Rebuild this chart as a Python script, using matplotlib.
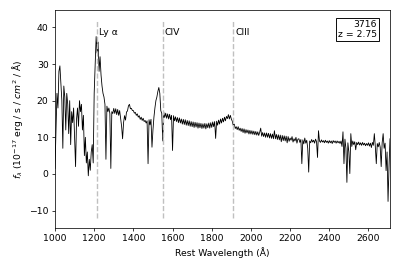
import matplotlib
matplotlib.use("Agg")
import matplotlib.pyplot as plt

wavelength = [
    1000, 1005, 1010, 1015, 1020, 1025, 1030, 1035, 1040, 1045,
    1050, 1055, 1060, 1065, 1070, 1075, 1080, 1085, 1090, 1095,
    1100, 1105, 1110, 1115, 1120, 1125, 1130, 1135, 1140, 1145,
    1150, 1155, 1160, 1165, 1170, 1175, 1180, 1185, 1190, 1195,
    1200, 1205, 1210, 1215, 1220, 1225, 1230, 1235, 1240, 1245,
    1250, 1255, 1260, 1265, 1270, 1275, 1280, 1285, 1290, 1295,
    1300, 1305, 1310, 1315, 1320, 1325, 1330, 1335, 1340, 1345,
    1350, 1355, 1360, 1365, 1370, 1375, 1380, 1385, 1390, 1395,
    1400, 1405, 1410, 1415, 1420, 1425, 1430, 1435, 1440, 1445,
    1450, 1455, 1460, 1465, 1470, 1475, 1480, 1485, 1490, 1495,
    1500, 1505, 1510, 1515, 1520, 1525, 1530, 1535, 1540, 1545,
    1550, 1555, 1560, 1565, 1570, 1575, 1580, 1585, 1590, 1595,
    1600, 1605, 1610, 1615, 1620, 1625, 1630, 1635, 1640, 1645,
    1650, 1655, 1660, 1665, 1670, 1675, 1680, 1685, 1690, 1695,
    1700, 1705, 1710, 1715, 1720, 1725, 1730, 1735, 1740, 1745,
    1750, 1755, 1760, 1765, 1770, 1775, 1780, 1785, 1790, 1795,
    1800, 1805, 1810, 1815, 1820, 1825, 1830, 1835, 1840, 1845,
    1850, 1855, 1860, 1865, 1870, 1875, 1880, 1885, 1890, 1895,
    1900, 1905, 1910, 1915, 1920, 1925, 1930, 1935, 1940, 1945,
    1950, 1955, 1960, 1965, 1970, 1975, 1980, 1985, 1990, 1995,
    2000, 2005, 2010, 2015, 2020, 2025, 2030, 2035, 2040, 2045,
    2050, 2055, 2060, 2065, 2070, 2075, 2080, 2085, 2090, 2095,
    2100, 2105, 2110, 2115, 2120, 2125, 2130, 2135, 2140, 2145,
    2150, 2155, 2160, 2165, 2170, 2175, 2180, 2185, 2190, 2195,
    2200, 2205, 2210, 2215, 2220, 2225, 2230, 2235, 2240, 2245,
    2250, 2255, 2260, 2265, 2270, 2275, 2280, 2285, 2290, 2295,
    2300, 2305, 2310, 2315, 2320, 2325, 2330, 2335, 2340, 2345,
    2350, 2355, 2360, 2365, 2370, 2375, 2380, 2385, 2390, 2395,
    2400, 2405, 2410, 2415, 2420, 2425, 2430, 2435, 2440, 2445,
    2450, 2455, 2460, 2465, 2470, 2475, 2480, 2485, 2490, 2495,
    2500, 2505, 2510, 2515, 2520, 2525, 2530, 2535, 2540, 2545,
    2550, 2555, 2560, 2565, 2570, 2575, 2580, 2585, 2590, 2595,
    2600, 2605, 2610, 2615, 2620, 2625, 2630, 2635, 2640, 2645,
    2650, 2655, 2660, 2665, 2670, 2675, 2680, 2685, 2690, 2695,
    2700, 2705, 2710,
]
flux = [
    1.5, 12, 22, 18, 28, 29.5, 25, 20, 7, 24,
    21, 12, 22, 19, 11, 20, 8, 17, 14, 18,
    10, 2, 15, 18, 13, 20, 17, 19, 12, 16,
    5, 10, 3, 6, -0.5, 4, 1, 6, 8, 3,
    22, 30, 37.5, 33, 36, 28, 32, 27, 24, 22,
    21, 19, 4, 18.5, 17, 18, 16.5, 1.5, 17, 16.5,
    17.9, 16.5, 17.8, 16.2, 17.6, 16.0, 17.3, 15.2, 13, 9.6,
    14, 15.9, 14.7, 16.9, 17.2, 18.6, 19, 17.8, 17.9, 17.3,
    17.3, 16.6, 16.8, 16.0, 16.4, 15.5, 15.9, 14.9, 15.5, 14.6,
    15.2, 14.3, 14.6, 13.9, 14.5, 2.8, 14.8, 13.4, 14.9, 7.3,
    12, 15.5, 18, 20, 21, 22.5, 23.6, 22, 17.3, 16.5,
    9, 16.9, 15.4, 16.6, 15.2, 16.4, 15.0, 16.3, 14.8, 16.0,
    6.4, 15.9, 14.5, 15.6, 14.3, 15.4, 14.0, 15.3, 13.9, 15.0,
    13.6, 14.9, 13.5, 14.8, 13.3, 14.6, 13.2, 14.5, 13.0, 14.3,
    12.9, 14.2, 12.7, 14.1, 12.8, 14.0, 12.5, 13.9, 12.6, 13.8,
    12.4, 13.7, 12.5, 13.8, 12.3, 13.7, 12.6, 13.9, 12.5, 14.0,
    12.7, 14.2, 12.9, 14.3, 9.7, 14.4, 13.3, 14.7, 13.6, 15.0,
    13.9, 15.2, 14.2, 15.5, 14.5, 15.7, 15.1, 16.2, 15.0, 16.0,
    15, 14.4, 13.2, 13.6, 12.4, 12.9, 12.1, 12.9, 11.9, 12.5,
    11.6, 12.4, 11.3, 12.3, 11.1, 12.1, 11.2, 12.0, 10.9, 11.9,
    10.9, 11.8, 10.8, 11.7, 10.7, 11.6, 10.6, 11.5, 10.5, 11.4,
    12.5, 10.3, 11.3, 10.2, 11.2, 10.0, 11.2, 10.0, 11.1, 9.8,
    11.0, 9.7, 10.9, 9.6, 11.8, 9.6, 10.8, 9.4, 10.7, 9.3,
    10.6, 8.8, 10.5, 9.1, 10.4, 9.0, 10.3, 8.5, 10.2, 8.9,
    9.8, 9.2, 10.2, 8.7, 9.6, 9, 10, 8.4, 9.5, 9.6,
    8.6, 9.4, 2.8, 9.3, 8.2, 9.8, 8.4, 9.2, 7, 0.5,
    9, 8.5, 9.4, 8.7, 9.2, 8.4, 9.5, 8.8, 4.5, 11.8,
    9, 8.6, 9.3, 8.7, 9.1, 8.5, 9.2, 8.6, 9, 8.4,
    9.1, 8.5, 9, 8.3, 9.1, 8.6, 9, 8.4, 9, 8.5,
    8.9, 8.3, 9, 7.5, 11.5, 2.8, 9.5, 7, -2.3, 8.5,
    6, 0.1, 11, 7.5, 9, 8, 8.8, 6.6, 8.6, 8,
    8.7, 7.9, 8.5, 7.8, 8.6, 7.9, 8.4, 7.7, 8.3, 7.8,
    8.5, 7.6, 8.4, 7.2, 8.6, 7.8, 11, 7.5, 2.8, 8.3,
    7.4, 8.6, 7.3, 2, 8.5, 11, 7, 8.4, 0.9, 6,
    -7.5, 2, 9.6,
]

line_names = ["Ly α", "CIV", "CIII"]
line_waves = [1216, 1549, 1909]
object_id = "3716"
redshift = 2.75

fig = plt.figure(figsize=(6, 4.02), dpi=400 / 6)
ax = fig.add_axes([0.1375, 0.150, 0.8375, 0.812])
ax.plot(wavelength, flux, color="black", lw=0.9)
for name, w in zip(line_names, line_waves):
    ax.vlines(w, -12, 42, colors="#c0c0c0", linestyles="--", lw=1.5)
    ax.text(w + 10, 38, name, fontsize=10)

ax.set_xlim(1000, 2710)
ax.set_ylim(-14.7, 44.7)
ax.set_xticks([1000, 1200, 1400, 1600, 1800, 2000, 2200, 2400, 2600])
ax.set_yticks([-10, 0, 10, 20, 30, 40])
ax.set_xlabel("Rest Wavelength (Å)")
ax.set_ylabel(r"$f_\lambda$ ($10^{-17}$ erg / s / $cm^2$ / Å)")
ax.text(0.961, 0.955, f"{object_id}\nz = {redshift}", transform=ax.transAxes,
        ha="right", va="top", multialignment="right", fontsize=10,
        bbox=dict(boxstyle="square,pad=0.2", fc="white", ec="black"))
fig.savefig("out.png")
